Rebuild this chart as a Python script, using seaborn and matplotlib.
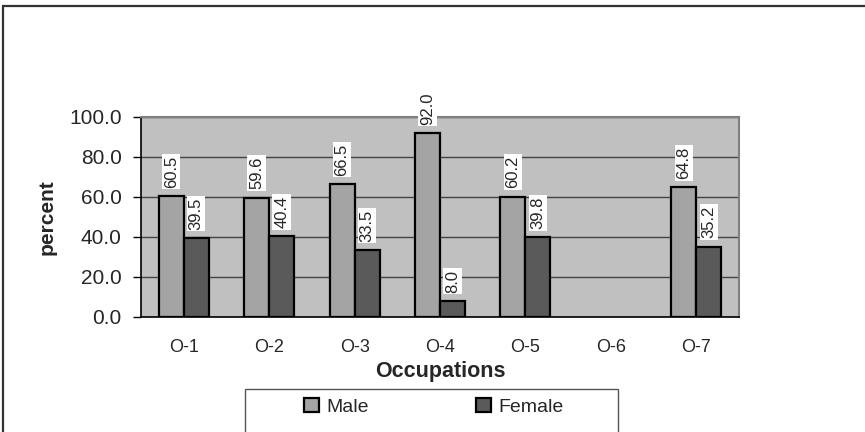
import matplotlib
matplotlib.use("Agg")
import matplotlib.pyplot as plt
import matplotlib.patches as mpatches
import numpy as np
import pandas as pd
import seaborn as sns

# Share of each occupation group by sex (percent); O-6 has no entries
occupations = ["O-1", "O-2", "O-3", "O-4", "O-5", "O-6", "O-7"]
male = [60.5, 59.6, 66.5, 92.0, 60.2, np.nan, 64.8]
female = [39.5, 40.4, 33.5, 8.0, 39.8, np.nan, 35.2]
sexes = ["Male", "Female"]
y_ticks = [0, 20, 40, 60, 80, 100]

df = pd.DataFrame({
    "Occupations": occupations * 2,
    "percent": male + female,
    "sex": ["Male"] * len(occupations) + ["Female"] * len(occupations),
})

sns.set_style("white")
plt.rcParams["font.family"] = ["Liberation Sans", "DejaVu Sans"]

fig = plt.figure(figsize=(8.65, 4.32), dpi=100)
ax = fig.add_axes([141 / 865, 1 - 317 / 432, 598 / 865, 200 / 432])
ax.set_facecolor("#C0C0C0")

palette = {"Male": "#A4A4A4", "Female": "#5A5A5A"}
sns.barplot(data=df, x="Occupations", y="percent", hue="sex",
            order=occupations, hue_order=sexes, palette=palette,
            width=0.585, edgecolor="black", linewidth=1.6,
            errorbar=None, saturation=1, ax=ax, zorder=3)

# value labels above each bar
for cont in ax.containers:
    ax.bar_label(cont, fmt="%.1f", rotation=90, padding=6, fontsize=12,
                 bbox=dict(facecolor="white", edgecolor="none", pad=1.2),
                 zorder=5)

ax.set_ylim(0, 100)
ax.set_xlim(-0.5, len(occupations) - 0.5)
ax.set_yticks(y_ticks)
ax.set_yticklabels([f"{v:.1f}" for v in y_ticks], fontsize=15)
ax.grid(axis="y", color="#444444", linewidth=1.0, zorder=0)
ax.set_axisbelow(True)

# category ticks sit between groups
ax.set_xticks(range(len(occupations)))
ax.set_xticklabels(occupations, fontsize=13)
ax.set_xticks(np.arange(-0.5, len(occupations)), minor=True)
ax.tick_params(axis="x", which="major", length=0, pad=16)
ax.tick_params(axis="x", which="minor", length=5, width=1, direction="out",
               color="black")
ax.tick_params(axis="y", length=6, width=1, direction="out", color="black",
               pad=8, left=True)

for side in ["left", "bottom"]:
    ax.spines[side].set_color("black")
    ax.spines[side].set_linewidth(1.2)
for side in ["top", "right"]:
    ax.spines[side].set_visible(True)
    ax.spines[side].set_color("#808080")
    ax.spines[side].set_linewidth(1.5)

ax.set_ylabel("percent", fontsize=15, fontweight="bold")
ax.yaxis.set_label_coords(-0.1577, 0.5)
ax.yaxis.label.set_va("center")
ax.set_xlabel("Occupations", fontsize=15.5, fontweight="bold")
ax.xaxis.set_label_coords(0.5, -0.22)

# outer chart frame and legend box
fig.patches.append(mpatches.Rectangle(
    (3 / 865, -0.5), 2, 1.5 - 6 / 432, transform=fig.transFigure,
    fill=False, edgecolor="#333333", linewidth=1.6, zorder=0))
fig.patches.append(mpatches.Rectangle(
    (245 / 865, -0.5), 373 / 865, 0.5 + 1 - 389 / 432,
    transform=fig.transFigure, facecolor="white", edgecolor="#555555",
    linewidth=1.0, zorder=1))

handles, labels = ax.get_legend_handles_labels()
ax.get_legend().remove()
leg = fig.legend(handles, labels, loc="center",
                 bbox_to_anchor=(434 / 865, 1 - 407 / 432),
                 bbox_transform=fig.transFigure, frameon=False, ncol=2,
                 fontsize=14, handlelength=0.75, handleheight=0.75,
                 handletextpad=0.4, columnspacing=5.5)
leg.set_zorder(2)

fig.savefig("out.png", dpi=100)
